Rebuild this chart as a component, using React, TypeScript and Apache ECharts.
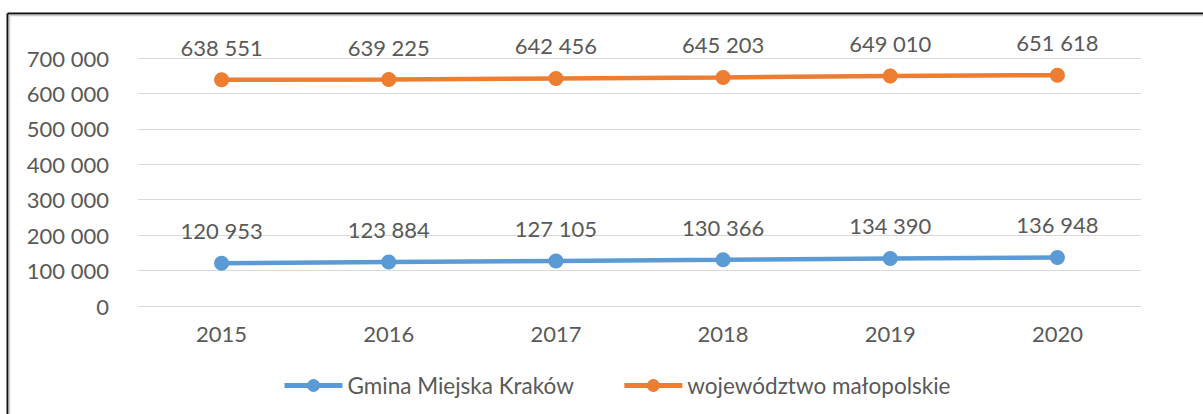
import React, { useEffect, useRef } from "react";
import * as echarts from "echarts";

const years = ["2015", "2016", "2017", "2018", "2019", "2020"];
const krakow = [120953, 123884, 127105, 130366, 134390, 136948];
const malopolskie = [638551, 639225, 642456, 645203, 649010, 651618];
const seriesNames = ["Gmina Miejska Kraków", "województwo małopolskie"];

const FONT = "Lato";
const TXT = "#595959";

const fmt = (v: number) => String(v).replace(/\B(?=(\d{3})+(?!\d))/g, " ");

export default function App() {
  const ref = useRef<HTMLDivElement>(null);
  useEffect(() => {
    document.body.style.margin = "0";
    const chart = echarts.init(ref.current!, undefined, { renderer: "svg" });
    const mkSeries = (name: string, data: number[], color: string) => ({
      name,
      type: "line",
      data,
      symbol: "circle",
      symbolSize: 15,
      color,
      lineStyle: { width: 4.5, color },
      itemStyle: { color },
      label: {
        show: true,
        position: "top",
        distance: 14,
        color: TXT,
        fontFamily: FONT,
        fontSize: 22,
        formatter: (p: any) => fmt(p.value),
      },
    });
    chart.setOption({
      animation: false,
      backgroundColor: "#ffffff",
      textStyle: { fontFamily: FONT },
      grid: { left: 138, right: 62, top: 58, bottom: 108, containLabel: false },
      xAxis: {
        type: "category",
        data: years,
        boundaryGap: true,
        axisLine: { show: false },
        axisTick: { show: false },
        axisLabel: { color: TXT, fontFamily: FONT, fontSize: 22, margin: 16 },
      },
      yAxis: {
        type: "value",
        min: 0,
        max: 700000,
        interval: 100000,
        axisLine: { show: false },
        axisTick: { show: false },
        splitLine: { lineStyle: { color: "#D9D9D9", width: 1 } },
        axisLabel: {
          color: TXT,
          fontFamily: FONT,
          fontSize: 22,
          margin: 29,
          formatter: (v: number) => fmt(v),
        },
      },
      legend: {
        left: 277,
        top: 369,
        itemWidth: 58,
        itemHeight: 16,
        itemGap: 48,
        lineStyle: { width: 5 },
        textStyle: { color: TXT, fontFamily: FONT, fontSize: 22.5, padding: [0, 0, 0, 0] },
        data: seriesNames,
      },
      graphic: [
        { type: "line", shape: { x1: 7.5, y1: 13.5, x2: 1203, y2: 13.5 }, style: { stroke: "#111", lineWidth: 2 } },
        { type: "line", shape: { x1: 7.5, y1: 13.5, x2: 7.5, y2: 414 }, style: { stroke: "#111", lineWidth: 2 } },
        { type: "line", shape: { x1: 9.5, y1: 15.5, x2: 1203, y2: 15.5 }, style: { stroke: "#ccc", lineWidth: 1.5 } },
        { type: "line", shape: { x1: 9.5, y1: 15.5, x2: 9.5, y2: 414 }, style: { stroke: "#ccc", lineWidth: 1.5 } },
      ],
      series: [
        mkSeries(seriesNames[0], krakow, "#5B9BD5"),
        mkSeries(seriesNames[1], malopolskie, "#ED7D31"),
      ],
    });
    return () => chart.dispose();
  }, []);
  return <div ref={ref} style={{ width: 1203, height: 414 }} />;
}
